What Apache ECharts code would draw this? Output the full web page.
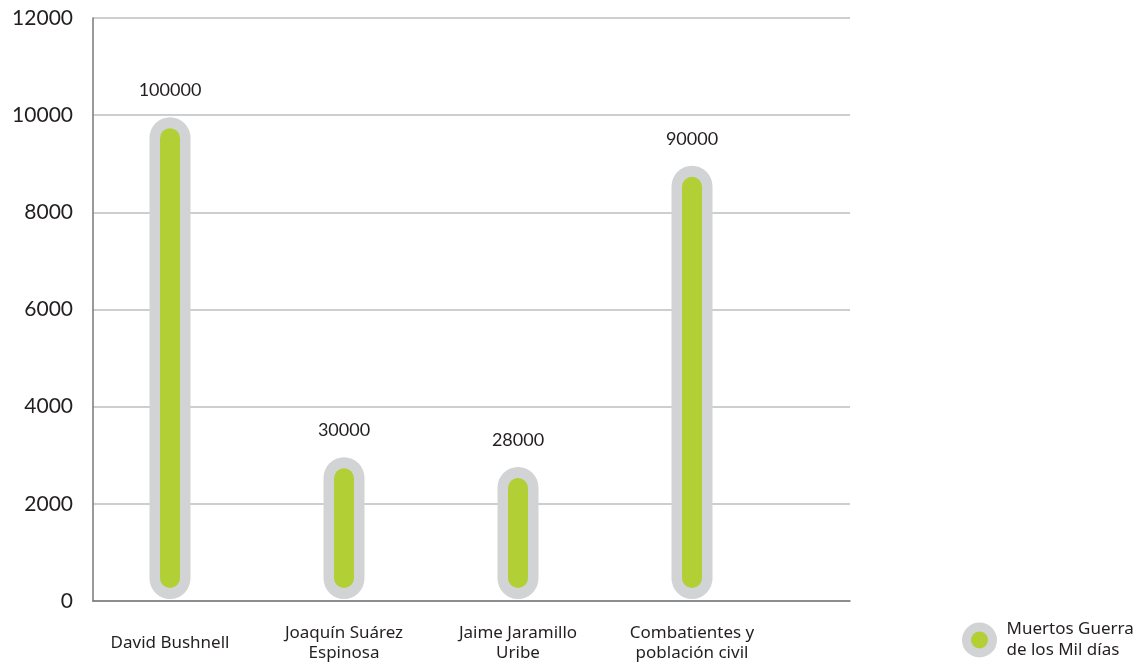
<!DOCTYPE html>
<html>
<head>
<meta charset="utf-8">
<script src="https://cdn.jsdelivr.net/npm/echarts@6/dist/echarts.min.js"></script>
<style>html,body{margin:0;padding:0;background:#fff}#c{width:1145px;height:669px}</style>
</head>
<body>
<div id="c"></div>
<script>
var categories = ['David Bushnell', 'Joaquín Suárez\nEspinosa', 'Jaime Jaramillo\nUribe', 'Combatientes y\npoblación civil'];
var barHeights = [10000, 3000, 2800, 9000];
var valueLabels = ['100000', '30000', '28000', '90000'];
var seriesName = 'Muertos Guerra\nde los Mil días';
var yTicks = { min: 0, max: 12000, interval: 2000 };

var GRAY = '#d1d3d4', GREEN = '#b2cf36', TEXT = '#231f20';
var LABEL_FONT = '"Noto Sans", sans-serif';
var chart = echarts.init(document.getElementById('c'));
var data = categories.map(function (c, i) { return [i, barHeights[i], valueLabels[i]]; });

chart.setOption({
  animation: false,
  grid: [
    { left: 93, right: 295, top: 18, bottom: 68 },
    { left: 83, right: 366, top: 18, bottom: 68 }
  ],
  xAxis: [
    { gridIndex: 0, type: 'value', min: 0, max: 1, axisLine: { show: true, lineStyle: { color: '#77787b', width: 1.5 } },
      axisTick: { show: false }, axisLabel: { show: false }, splitLine: { show: false } },
    { gridIndex: 1, type: 'category', data: categories, axisLine: { show: false }, axisTick: { show: false },
      axisLabel: { interval: 0, margin: 42, verticalAlign: 'middle', align: 'center', color: TEXT,
        fontFamily: LABEL_FONT, fontSize: 17, lineHeight: 20 } }
  ],
  yAxis: [
    { gridIndex: 0, type: 'value', min: yTicks.min, max: yTicks.max, interval: yTicks.interval,
      axisLine: { show: true, lineStyle: { color: '#77787b', width: 1.5 } }, axisTick: { show: false },
      axisLabel: { margin: 20, color: TEXT, fontFamily: 'Lato, sans-serif', fontSize: 21,
        formatter: function (v) { return String(v); } },
      splitLine: { lineStyle: { color: '#bcbec0', width: 1.5 } } },
    { gridIndex: 1, type: 'value', min: yTicks.min, max: yTicks.max, show: false }
  ],
  legend: {
    left: 957, top: 614, orient: 'vertical',
    data: [{ name: seriesName, icon: 'circle' }],
    itemWidth: 26, itemHeight: 26,
    itemStyle: { color: GREEN, borderColor: GRAY, borderWidth: 9 },
    textStyle: { color: TEXT, fontFamily: LABEL_FONT, fontSize: 17, lineHeight: 21, padding: [0, 0, 0, 9] }
  },
  series: [{
    name: seriesName,
    type: 'custom',
    xAxisIndex: 1, yAxisIndex: 1,
    itemStyle: { color: GREEN, borderColor: GRAY, borderWidth: 9 },
    encode: { x: 0, y: 1 },
    data: data,
    renderItem: function (params, api) {
      var base = api.coord([api.value(0), 0]);
      var top = api.coord([api.value(0), api.value(1)]);
      var x = base[0];
      var y0 = base[1] - 2, y1 = top[1] + 2;
      var W = 41, w = 20, inset = 11;
      return {
        type: 'group',
        children: [
          { type: 'rect', shape: { x: x - W / 2, y: y1, width: W, height: y0 - y1, r: W / 2 }, style: { fill: GRAY } },
          { type: 'rect', shape: { x: x - w / 2, y: y1 + inset, width: w, height: y0 - y1 - 2 * inset, r: w / 2 }, style: { fill: GREEN } },
          { type: 'text', x: x, y: top[1] - 25, style: { text: valueLabels[params.dataIndex], fill: TEXT,
            font: '18px Lato, sans-serif', align: 'center', verticalAlign: 'middle' } }
        ]
      };
    }
  }]
});
</script>
</body>
</html>
